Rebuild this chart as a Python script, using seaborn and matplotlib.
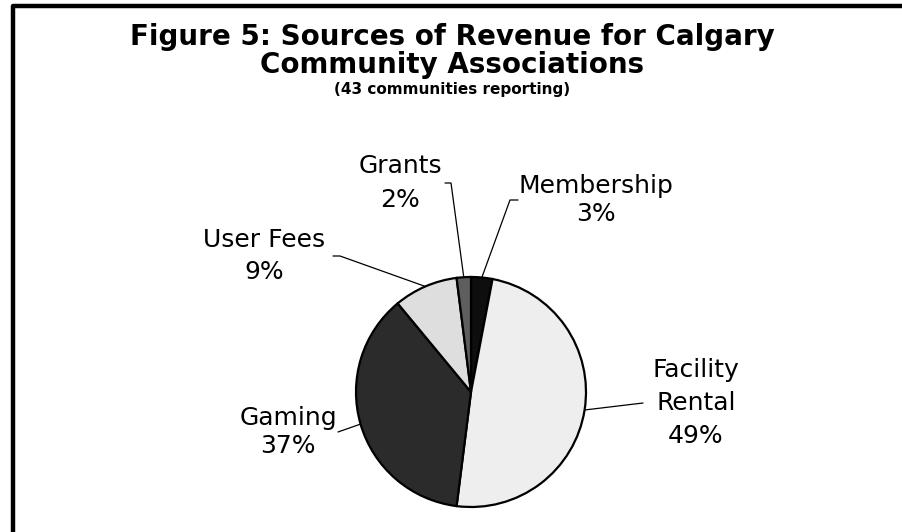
import numpy as np
import matplotlib
matplotlib.use("Agg")
import matplotlib.pyplot as plt
import seaborn as sns

# Revenue sources, in clockwise order from 12 o'clock
categories = ["Membership", "Facility\nRental", "Gaming", "User Fees", "Grants"]
shares = [3, 49, 37, 9, 2]
pct_labels = ["3%", "49%", "37%", "9%", "2%"]

title_lines = ["Figure 5: Sources of Revenue for Calgary", "Community Associations"]
subtitle = "(43 communities reporting)"

sns.set_theme(style="white")
plt.rcParams["font.family"] = ["DejaVu Sans"]
plt.rcParams["text.color"] = "black"

W, H = 903, 532
fig = plt.figure(figsize=(W / 100, H / 100), dpi=100)
ax = fig.add_axes([0, 0, 1, 1])

# frame around the chart area
ax.plot([13, 13, W + 10], [H + 10, 5.5, 5.5], color="black", lw=3.2,
        solid_capstyle="projecting", clip_on=False)

fills = ["#0e0e0e", "#eeeeee", "#2b2b2b", "#dedede", "#5e5e5e"]
cx, cy, r = 471, 392, 115

# y axis runs downward, so counterclock=True draws clockwise on screen
wedges, _ = ax.pie(shares, colors=fills, startangle=-90, counterclock=True,
                   center=(cx, cy), radius=r, frame=True,
                   wedgeprops=dict(edgecolor="black", linewidth=1.6))
ax.set_xlim(0, W)
ax.set_ylim(H, 0)
ax.set_aspect("equal")
ax.axis("off")

# mid-angle of each wedge, measured on screen (clockwise from top)
cum = np.cumsum([0] + shares[:-1])
mid = [(c + s / 2) / sum(shares) * 360 for c, s in zip(cum, shares)]
edge = [(cx + r * np.sin(np.radians(a)), cy - r * np.cos(np.radians(a))) for a in mid]

# leader bends and label anchors
leaders = {
    "Membership": [(510, 200), (518, 200)],
    "Facility\nRental": [(643, 403)],
    "Gaming": [(338, 432)],
    "User Fees": [(340, 256), (333, 256)],
    "Grants": [(451, 183), (445, 183)],
}
label_pos = {
    "Membership": (596, 200, 1.2),
    "Facility\nRental": (696, 403, 1.45),
    "Gaming": (288, 432, 1.2),
    "User Fees": (264, 256, 1.4),
    "Grants": (400, 183, 1.5),
}

for cat, pct, (ex, ey) in zip(categories, pct_labels, edge):
    pts = [(ex, ey)] + leaders[cat]
    ax.plot([p[0] for p in pts], [p[1] for p in pts], color="black", lw=0.9)
    x, y, ls = label_pos[cat]
    ax.text(x, y, f"{cat}\n{pct}", ha="center", va="center", fontsize=18,
            linespacing=ls, color="black")

ax.text(W / 2 + 1, 45, title_lines[0], ha="center", va="baseline",
        fontsize=20, fontweight="bold", color="black")
ax.text(W / 2 + 1, 73, title_lines[1], ha="center", va="baseline",
        fontsize=20, fontweight="bold", color="black")
ax.text(W / 2 + 1, 94, subtitle, ha="center", va="baseline",
        fontsize=11, fontweight="bold", color="black")

fig.savefig("out.png", dpi=100)
